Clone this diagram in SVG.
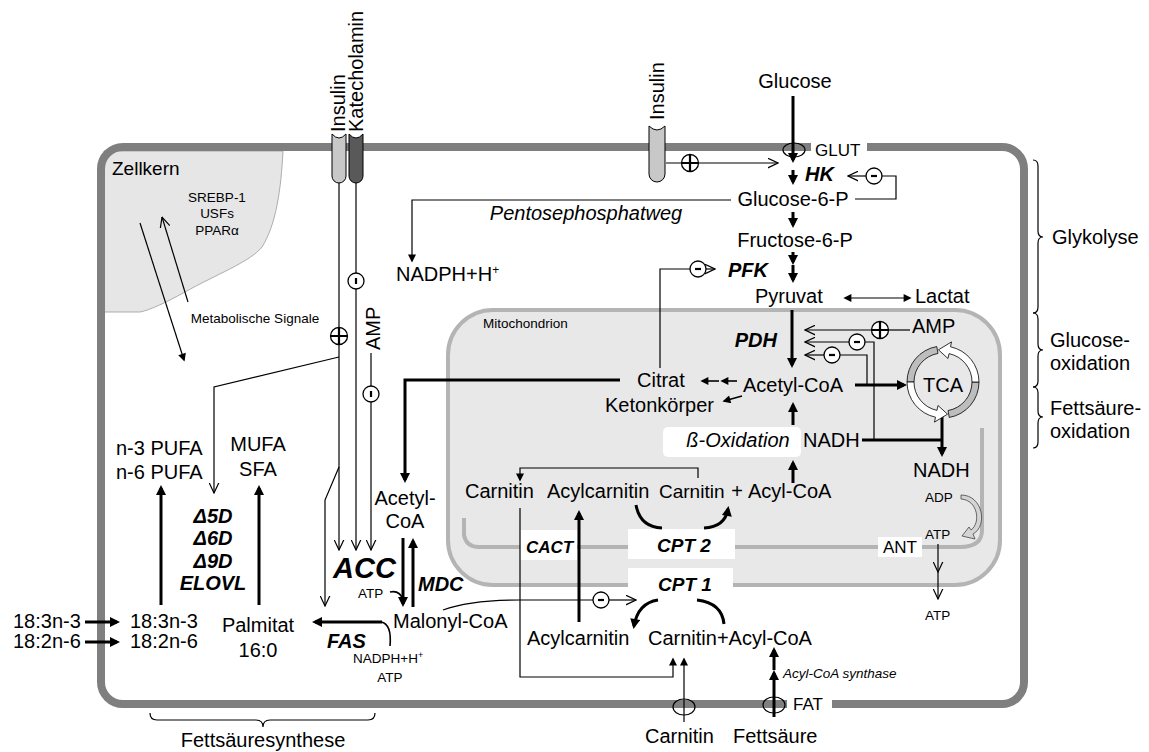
<svg xmlns="http://www.w3.org/2000/svg" width="1149" height="752" viewBox="0 0 1149 752">
<style>
text{font-family:"Liberation Sans",Arial,sans-serif;font-size:20px;fill:#000}
.s{font-size:13.5px}
.m{font-size:17px}
.bi{font-weight:bold;font-style:italic}
.i{font-style:italic}
.c{text-anchor:middle}
.e{text-anchor:end}
.thin{stroke:#000;stroke-width:1.2;fill:none}
.thick{stroke:#000;stroke-width:3;fill:none}
.med{stroke:#000;stroke-width:1.6;fill:none}
.reg{fill:#fff;stroke:#000;stroke-width:1.3}
.sym{stroke:#000;stroke-width:2.2;fill:none}
.box{fill:#fff;stroke:none}
</style>
<defs>
<marker id="af" viewBox="0 0 10 10" refX="7" refY="5" markerWidth="11" markerHeight="10" markerUnits="userSpaceOnUse" orient="auto"><path d="M0,0 L10,5 L0,10 z" fill="#000"/></marker>
<marker id="sf" viewBox="0 0 10 10" refX="8" refY="5" markerWidth="9" markerHeight="8" markerUnits="userSpaceOnUse" orient="auto-start-reverse"><path d="M0,0 L10,5 L0,10 z" fill="#000"/></marker>
<marker id="ao" viewBox="0 0 10 10" refX="9.5" refY="5" markerWidth="11" markerHeight="11" markerUnits="userSpaceOnUse" orient="auto"><path d="M0,0.5 L9.5,5 L0,9.5" fill="none" stroke="#000" stroke-width="1.1"/></marker>
</defs>
<rect width="1149" height="752" fill="#fff"/>

<g id="nucleus">
<path d="M104,151 H283 C281,190 276,225 262,247 C250,262 215,275 185,292 C165,303 150,310 140,312 H104 Z" fill="#e6e6e6" stroke="#9a9a9a" stroke-width="0.8"/>
<text x="112" y="175" style="font-size:19px">Zellkern</text>
<text class="s c" x="217" y="202">SREBP-1</text>
<text class="s c" x="217" y="218">USFs</text>
<text class="s c" x="217" y="235">PPARα</text>
</g>

<g id="mitochondrion">
<rect x="448" y="310" width="552" height="275" rx="45" fill="#e8e8e8" stroke="#b4b4b4" stroke-width="4"/>
<path d="M464,518 V535 Q466,547 479,547 H960 Q982,547 982,530 V428" fill="none" stroke="#b4b4b4" stroke-width="4"/>
<text class="s" x="483" y="328">Mitochondrion</text>
</g>

<g id="cell-membrane">
<rect x="101" y="147" width="923" height="557" rx="22" fill="none" stroke="#7f7f7f" stroke-width="8"/>
<rect class="box" x="811" y="140" width="56" height="15"/>
<rect class="box" x="787" y="697" width="45" height="15"/>
<ellipse cx="794" cy="150" rx="11" ry="7" fill="none" stroke="#000" stroke-width="1.2"/>
<ellipse cx="774" cy="705" rx="11" ry="8" fill="none" stroke="#000" stroke-width="1.2"/>
<ellipse cx="684" cy="707" rx="11" ry="8" fill="none" stroke="#000" stroke-width="1.2"/>
<text class="m" x="815" y="156">GLUT</text>
<text class="m" x="793" y="710">FAT</text>
</g>

<g id="receptors">
<path d="M332,134 Q339,142 346,134 V176 A7,7 0 0 1 332,176 Z" fill="#c8c8c8" stroke="#000" stroke-width="1"/>
<path d="M349,134 Q356,142 363,134 V176 A7,7 0 0 1 349,176 Z" fill="#595959" stroke="#000" stroke-width="1"/>
<path d="M649,126 Q657,134 665,126 V174 A8,8 0 0 1 649,174 Z" fill="#c8c8c8" stroke="#000" stroke-width="1"/>
<text transform="translate(345,132) rotate(-90)">Insulin</text>
<text transform="translate(363,132) rotate(-90)">Katecholamin</text>
<text transform="translate(664,120) rotate(-90)">Insulin</text>
</g>

<g id="boxes">
<rect class="box" x="663" y="427" width="138" height="30" rx="5"/>
<rect class="box" x="520" y="530" width="57" height="30"/>
<rect class="box" x="628" y="529" width="107" height="30"/>
<rect class="box" x="628" y="568" width="105" height="28"/>
<rect class="box" x="878" y="537" width="44" height="20"/>
</g>

<g id="connectors">
<path class="thick" d="M793,96 V160" marker-end="url(#af)"/>
<path class="thick" d="M793,170 V182" marker-end="url(#af)"/>
<path class="thick" d="M793,212 V225" marker-end="url(#af)"/>
<path class="thick" d="M793,252 V262" marker-end="url(#af)"/>
<path class="thick" d="M793,265 V280" marker-end="url(#af)"/>
<path class="thick" d="M792,310 V365" marker-end="url(#af)"/>
<path class="thick" d="M855,385 H904" marker-end="url(#af)"/>
<path class="thick" d="M862,440 H942"/>
<path class="thick" d="M942,416 V454" marker-end="url(#af)"/>
<path class="thick" d="M793,425 V405" marker-end="url(#af)"/>
<path class="thick" d="M793,483 V463" marker-end="url(#af)"/>
<path class="thick" d="M620,380 H405 V480" marker-end="url(#af)"/>
<path class="thick" d="M403,538 V604" marker-end="url(#af)"/>
<path class="thick" d="M413,607 V541" marker-end="url(#af)"/>
<path class="thick" d="M382,622 H315" marker-end="url(#af)"/>
<path class="med" d="M381,622 Q392,624 390,646"/>
<path class="med" d="M390,592 Q400,590 403,600"/>
<path class="thick" d="M161,605 V488" marker-end="url(#af)"/>
<path class="thick" d="M259,605 V488" marker-end="url(#af)"/>
<path class="thick" d="M85,622 H117" marker-end="url(#af)"/>
<path class="thick" d="M85,642 H117" marker-end="url(#af)"/>
<path class="thick" d="M579,622 V513" marker-end="url(#af)"/>
<path class="thick" d="M636,505 Q640,527 662,528"/>
<path class="thick" d="M704,528 Q725,527 728,509" marker-end="url(#af)"/>
<path class="thick" d="M658,600 Q638,603 634,626" marker-end="url(#af)"/>
<path class="thick" d="M697,600 Q722,603 724,624"/>
<path class="thick" d="M774,717 V673" marker-end="url(#af)"/>
<path class="thick" d="M774,670 V650" marker-end="url(#af)"/>
<path class="thin" d="M731,200 H412 V261" marker-end="url(#sf)"/>
<path class="thin" d="M845,298 H910" marker-start="url(#sf)" marker-end="url(#sf)"/>
<path class="med" d="M737,381 H722" marker-end="url(#sf)"/>
<path class="med" d="M719,381 H702" marker-end="url(#sf)"/>
<path class="med" d="M742,396 L724,401" marker-end="url(#sf)"/>
<path class="thin" d="M698,478 V468 H520 V480" marker-end="url(#sf)"/>
<path class="thin" d="M520,508 V677 H673 V659" marker-end="url(#sf)"/>
<path class="thin" d="M684,722 V659" marker-end="url(#sf)"/>
<path class="thin" d="M140,223 L184,360" marker-end="url(#sf)"/>
<path class="thin" d="M188,302 L162,217" marker-end="url(#ao)"/>
<path class="thin" d="M339,183 V550" marker-end="url(#ao)"/>
<path class="thin" d="M356,183 V550" marker-end="url(#ao)"/>
<path class="thin" d="M371,353 V550" marker-end="url(#ao)"/>
<path class="thin" d="M339,357 L214,387 V493" marker-end="url(#ao)"/>
<path class="thin" d="M339,467 L325,500 V606" marker-end="url(#ao)"/>
<path class="thin" d="M666,163 H778" marker-end="url(#ao)"/>
<path class="thin" d="M855,199 H896 V176 H882"/>
<path class="thin" d="M866,176 H848" marker-end="url(#ao)"/>
<path class="thin" d="M660,368 V269 H690"/>
<path class="thin" d="M706,269 H715" marker-end="url(#ao)"/>
<path class="thin" d="M910,330 H888"/>
<path class="thin" d="M872,330 H805" marker-end="url(#ao)"/>
<path class="thin" d="M874,440 V342 H865"/>
<path class="thin" d="M849,342 H805" marker-end="url(#ao)"/>
<path class="thin" d="M867,385 V355 H840"/>
<path class="thin" d="M824,355 H805" marker-end="url(#ao)"/>
<path class="thin" d="M443,610 Q470,600 520,600 H593"/>
<path class="thin" d="M609,600 H636" marker-end="url(#ao)"/>
<path class="thin" d="M938,544 V572" marker-end="url(#ao)"/>
<path class="thin" d="M938,572 V599" marker-end="url(#ao)"/>
<path d="M961,495 C983,495 988,526 973,534 L975,539 L962,536 L969,527 L971,530 C981,523 978,500 961,499 Z" fill="#d4d4d4" stroke="#444" stroke-width="0.8"/>
</g>

<g id="regulators">
<circle class="reg" cx="339" cy="336" r="8.5"/><path class="sym" d="M330.5,336 H347.5 M339,327.5 V344.5"/>
<circle class="reg" cx="690" cy="163" r="8.5"/><path class="sym" d="M681.5,163 H698.5 M690,154.5 V171.5"/>
<circle class="reg" cx="880" cy="330" r="8.5"/><path class="sym" d="M871.5,330 H888.5 M880,321.5 V338.5"/>
<circle class="reg" cx="874" cy="176" r="8"/><path class="sym" d="M871,176 H877" stroke-width="2.6"/>
<circle class="reg" cx="698" cy="269" r="8"/><path class="sym" d="M695,269 H701" stroke-width="2.6"/>
<circle class="reg" cx="857" cy="342" r="8"/><path class="sym" d="M854,342 H860" stroke-width="2.6"/>
<circle class="reg" cx="832" cy="355" r="8"/><path class="sym" d="M829,355 H835" stroke-width="2.6"/>
<circle class="reg" cx="601" cy="600" r="8"/><path class="sym" d="M598,600 H604" stroke-width="2.6"/>
<circle class="reg" cx="356" cy="281" r="8"/><path class="sym" d="M356,278 V284" stroke-width="2.6"/>
<circle class="reg" cx="371" cy="394" r="8"/><path class="sym" d="M371,391 V397" stroke-width="2.6"/>
</g>

<g id="tca">
<path d="M936.75,346.55 A36,36 0 0 0 907,382 L914,382 A29,29 0 0 1 937.96,353.44 Z" fill="#bdbdbd" stroke="#000" stroke-width="0.8"/>
<path d="M949.25,417.45 A36,36 0 0 0 979,382 L972,382 A29,29 0 0 1 948.04,410.56 Z" fill="#bdbdbd" stroke="#000" stroke-width="0.8"/>
<path d="M972,382 A29,29 0 0 0 949.03,353.63 L947.99,358.52 L938.48,349.82 L951.52,341.90 L950.49,346.79 A36,36 0 0 1 979,382 Z" fill="#fff" stroke="#000" stroke-width="0.8"/>
<path d="M907,382 A36,36 0 0 0 935.52,417.21 L934.48,422.10 L947.52,414.18 L938.01,405.48 L936.97,410.36 A29,29 0 0 1 914,382 Z" fill="#fff" stroke="#000" stroke-width="0.8"/>
<text class="c" x="943" y="392">TCA</text>
</g>

<g id="labels">
<text class="c" x="795" y="88">Glucose</text>
<text class="bi" x="805" y="181">HK</text>
<text class="c" x="793" y="206">Glucose-6-P</text>
<text class="c" x="795" y="247">Fructose-6-P</text>
<text class="bi" x="728" y="277">PFK</text>
<text x="755" y="303">Pyruvat</text>
<text x="915" y="303">Lactat</text>
<text class="i c" x="586" y="220">Pentosephosphatweg</text>
<text x="396" y="281">NADPH+H<tspan style="font-size:12px" dy="-7">+</tspan></text>
<text class="bi e" x="777" y="347">PDH</text>
<text x="912" y="333">AMP</text>
<text x="637" y="387">Citrat</text>
<text x="605" y="412">Ketonkörper</text>
<text x="743" y="392">Acetyl-CoA</text>
<text class="i c" x="738" y="447">ß-Oxidation</text>
<text x="803" y="447">NADH</text>
<text x="913" y="477">NADH</text>
<text x="465" y="498">Carnitin</text>
<text x="547" y="498">Acylcarnitin</text>
<text x="659" y="498" style="font-size:19px">Carnitin</text>
<text class="c" x="737" y="498">+</text>
<text x="748" y="498">Acyl-CoA</text>
<text class="s" x="925" y="502">ADP</text>
<text class="s" x="925" y="539">ATP</text>
<text class="m" x="883" y="553">ANT</text>
<text class="s" x="925" y="620">ATP</text>
<text class="bi" x="526" y="553" style="font-size:17px">CACT</text>
<text class="bi c" x="684" y="552" style="font-size:19px">CPT 2</text>
<text class="bi c" x="685" y="591" style="font-size:19px">CPT 1</text>
<text x="527" y="645">Acylcarnitin</text>
<text x="648" y="645">Carnitin+Acyl-CoA</text>
<text class="i s" x="783" y="678">Acyl-CoA synthase</text>
<text x="645" y="743">Carnitin</text>
<text x="733" y="743">Fettsäure</text>
<text class="s c" x="255" y="323">Metabolische Signale</text>
<text transform="translate(380,350) rotate(-90)">AMP</text>
<text x="116" y="455">n-3 PUFA</text>
<text x="116" y="479">n-6 PUFA</text>
<text class="c" x="258" y="451">MUFA</text>
<text class="c" x="258" y="476">SFA</text>
<text class="bi c" x="213" y="523">Δ5D</text>
<text class="bi c" x="213" y="545">Δ6D</text>
<text class="bi c" x="213" y="568">Δ9D</text>
<text class="bi c" x="213" y="590">ELOVL</text>
<text class="c" x="405" y="505">Acetyl-</text>
<text class="c" x="405" y="528">CoA</text>
<text class="bi" x="333" y="578" style="font-size:29px">ACC</text>
<text class="s" x="358" y="598">ATP</text>
<text class="bi" x="418" y="591">MDC</text>
<text x="393" y="628">Malonyl-CoA</text>
<text class="bi" x="327" y="648">FAS</text>
<text class="s" x="353" y="663">NADPH+H<tspan style="font-size:9px" dy="-5">+</tspan></text>
<text class="s c" x="390" y="682">ATP</text>
<text class="c" x="258" y="632">Palmitat</text>
<text class="c" x="258" y="657">16:0</text>
<text x="13" y="628">18:3n-3</text>
<text x="13" y="648">18:2n-6</text>
<text x="130" y="628">18:3n-3</text>
<text x="130" y="648">18:2n-6</text>
</g>

<g id="braces">
<path class="thin" d="M1033,160 Q1038,160 1038,166 V231 Q1038,237 1043,237 Q1038,237 1038,243 V307 Q1038,313 1033,313"/>
<path class="thin" d="M1033,313 Q1038,313 1038,319 V344 Q1038,350 1043,350 Q1038,350 1038,356 V381 Q1038,387 1033,387"/>
<path class="thin" d="M1033,387 Q1038,387 1038,393 V411 Q1038,417 1043,417 Q1038,417 1038,423 V442 Q1038,448 1033,448"/>
<path class="thin" d="M150,713 Q150,720 157,720 H256 Q263,720 263,727 Q263,720 270,720 H368 Q375,720 375,713"/>
<text x="1052" y="244">Glykolyse</text>
<text x="1050" y="347">Glucose-</text>
<text x="1050" y="370">oxidation</text>
<text x="1050" y="415">Fettsäure-</text>
<text x="1050" y="438">oxidation</text>
<text class="c" x="263" y="747">Fettsäuresynthese</text>
</g>
</svg>
